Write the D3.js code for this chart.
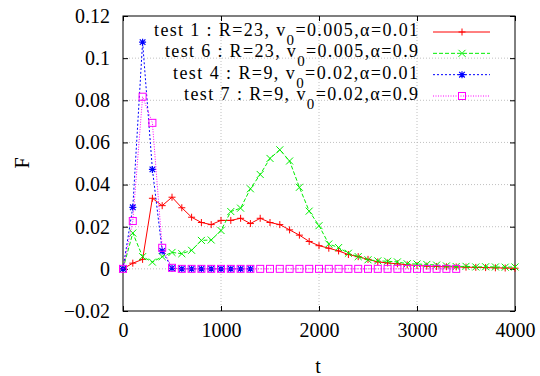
<!DOCTYPE html>
<html><head><meta charset="utf-8">
<script src="https://cdn.jsdelivr.net/npm/d3@7"></script>
<style>body{margin:0;background:#fff}svg{display:block}</style>
</head><body><svg id="c" width="540" height="376"></svg>
<script>
const t1 = d3.range(0, 4001, 100);
const test1 = [0,0.0027,0.0045,0.0335,0.030,0.034,0.029,0.0245,0.022,0.021,0.023,0.023,0.024,0.0215,0.024,0.022,0.021,0.0185,0.016,0.013,0.011,0.0098,0.0085,0.0068,0.0058,0.0045,0.0033,0.0028,0.0024,0.0019,0.0016,0.0013,0.0011,0.001,0.0009,0.0008,0.0007,0.0006,0.0005,0.0004,0.0003];
const test6 = [0,0.017,0.0058,0.0032,0.0058,0.0078,0.0072,0.0088,0.0135,0.0137,0.0182,0.0272,0.0288,0.038,0.0448,0.0524,0.0565,0.0512,0.0387,0.0274,0.0205,0.0118,0.0101,0.0074,0.0058,0.0043,0.0038,0.0036,0.0033,0.0024,0.0023,0.0021,0.0018,0.0014,0.0011,0.0012,0.0009,0.001,0.0009,0.0008,0.0009];
const test4 = [0,0.0292,0.1076,0.0472,0.0085,0.0003,0,0,0,0,0,0,0,0];
const test7 = [0,0.0227,0.0817,0.0693,0.010,0.0005,0,0,0,0,0,0,0,0,0,0,0,0,0,0,0,0,0,0,0,0,0,0,0,0,0,0,0,0,0];
const xTicks = [0,1000,2000,3000,4000];
const yTicks = [-0.02,0,0.02,0.04,0.06,0.08,0.1,0.12];
const seriesNames = [
  ["test 1 : R=23, v","=0.005,α=0.01"],
  ["test 6 : R=23, v","=0.005,α=0.9"],
  ["test 4 : R=9, v","=0.02,α=0.01"],
  ["test 7 : R=9, v","=0.02,α=0.9"]
];
const colors = ["#ff0000","#00ee00","#0000ff","#ff00ff"];
const dashes = [null,"4,2","2,2","1,1.5"];
const markers = ["plus","cross","star","square"];
const values = [test1,test6,test4,test7];
const FONT = "Liberation Serif";

const svg = d3.select("#c");
const L=123,R=515,T=16,B=311;
const x = d3.scaleLinear().domain([0,4000]).range([L,R]);
const y = d3.scaleLinear().domain([-0.02,0.12]).range([B,T]);

// grid
const g = svg.append("g");
g.selectAll(".gx").data(xTicks.slice(1,-1)).enter().append("line")
 .attr("x1",d=>x(d)).attr("x2",d=>x(d)).attr("y1",T).attr("y2",B)
 .attr("stroke","#b0b0b0").attr("stroke-width",0.8).attr("stroke-dasharray","1,2");
g.selectAll(".gy").data(yTicks.slice(1,-1)).enter().append("line")
 .attr("y1",d=>y(d)).attr("y2",d=>y(d)).attr("x1",L).attr("x2",R)
 .attr("stroke","#b0b0b0").attr("stroke-width",0.8).attr("stroke-dasharray","1,2");

// axes
const fmt = d=> d===0?"0":(d<0?"−"+String(Math.abs(+d.toFixed(2))):String(+d.toFixed(2)));
const ax = svg.append("g").attr("transform",`translate(0,${B})`).call(d3.axisBottom(x).tickValues(xTicks).tickSize(-5).tickPadding(12).tickFormat(d3.format("d")));
const ax2 = svg.append("g").attr("transform",`translate(0,${T})`).call(d3.axisTop(x).tickValues(xTicks).tickSize(-5).tickFormat(""));
const ay = svg.append("g").attr("transform",`translate(${L},0)`).call(d3.axisLeft(y).tickValues(yTicks).tickSize(-5).tickPadding(13).tickFormat(fmt));
const ay2 = svg.append("g").attr("transform",`translate(${R},0)`).call(d3.axisRight(y).tickValues(yTicks).tickSize(-5).tickFormat(""));
[ax,ax2,ay,ay2].forEach(a=>{a.attr("font-family",null);a.select(".domain").remove();a.selectAll("line").attr("stroke","#000");a.selectAll("text").attr("font-size",20).attr("fill","#000").style("font-family",FONT);});
svg.append("rect").attr("x",L).attr("y",T).attr("width",R-L).attr("height",B-T).attr("fill","none").attr("stroke","#000").attr("stroke-width",1);

// labels
svg.append("text").attr("x",318).attr("y",373).attr("text-anchor","middle").attr("font-size",20).style("font-family",FONT).text("t");
svg.append("text").attr("transform","translate(29,163) rotate(-90)").attr("text-anchor","middle").attr("font-size",20).style("font-family",FONT).text("F");

function marker(sel, type, cx, cy, col){
  const s=3.5;
  if(type==="plus"){
    sel.append("path").attr("d",`M${cx-s},${cy}H${cx+s}M${cx},${cy-s}V${cy+s}`).attr("stroke",col).attr("stroke-width",1).attr("fill","none");
  } else if(type==="cross"){
    sel.append("path").attr("d",`M${cx-s},${cy-s}L${cx+s},${cy+s}M${cx-s},${cy+s}L${cx+s},${cy-s}`).attr("stroke",col).attr("stroke-width",1).attr("fill","none");
  } else if(type==="star"){
    sel.append("path").attr("d",`M${cx-s},${cy}H${cx+s}M${cx},${cy-s}V${cy+s}M${cx-s*0.8},${cy-s*0.8}L${cx+s*0.8},${cy+s*0.8}M${cx-s*0.8},${cy+s*0.8}L${cx+s*0.8},${cy-s*0.8}`).attr("stroke",col).attr("stroke-width",1.2).attr("fill","none");
  } else {
    sel.append("rect").attr("x",cx-s).attr("y",cy-s).attr("width",2*s).attr("height",2*s).attr("stroke",col).attr("stroke-width",1).attr("fill","none");
  }
}

const line = d3.line().x((d,i)=>x(t1[i])).y(d=>y(d));
values.forEach((vals,k)=>{
  const gg = svg.append("g");
  gg.append("path").datum(vals).attr("d",line).attr("fill","none").attr("stroke",colors[k]).attr("stroke-width",1).attr("stroke-dasharray",dashes[k]);
  vals.forEach((v,i)=>marker(gg,markers[k],x(t1[i]),y(v),colors[k]));
});

// legend
const legY = d3.scalePoint().domain(d3.range(4)).range([32,96]);
const legW = [264,253,245,234];
seriesNames.forEach((nm,k)=>{
  const yy = legY(k);
  const tx = svg.append("text").attr("x",418).attr("y",yy+4).attr("text-anchor","end").attr("font-size",18).style("font-family",FONT)
    .attr("textLength",legW[k]).attr("lengthAdjust","spacing");
  tx.append("tspan").text(nm[0]);
  tx.append("tspan").attr("dy",9).attr("font-size",15).text("0");
  tx.append("tspan").attr("dy",-9).text(nm[1]);
  svg.append("line").attr("x1",433).attr("x2",490).attr("y1",yy).attr("y2",yy).attr("stroke",colors[k]).attr("stroke-width",1).attr("stroke-dasharray",dashes[k]);
  marker(svg,markers[k],462,yy,colors[k]);
});
</script></body></html>
